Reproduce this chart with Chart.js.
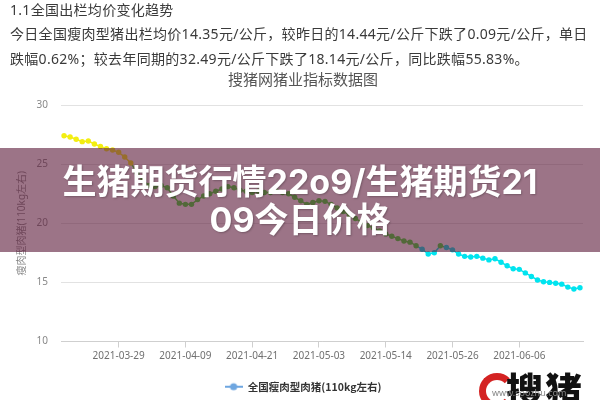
<!DOCTYPE html>
<html><head><meta charset="utf-8">
<script src="https://cdn.jsdelivr.net/npm/chart.js@4.4.1/dist/chart.umd.min.js"></script>
<style>
html,body{margin:0;padding:0;background:#fff;}
#wrap{position:relative;width:600px;height:400px;overflow:hidden;font-family:"Noto Sans","Noto Sans CJK SC",sans-serif;}
#c{position:absolute;left:0;top:0;}
.t{position:absolute;left:10px;color:#3a3a3a;font-size:14px;white-space:nowrap;letter-spacing:0.3px;}
#banner{position:absolute;left:0;top:148px;width:600px;height:104px;background:rgba(96,30,62,0.62);}
#btxt{position:absolute;left:0;top:163px;width:600px;text-align:center;color:#fff;font-weight:bold;font-size:34px;line-height:38px;font-family:"Inter","Noto Sans CJK SC",sans-serif;text-shadow:1px 1px 2px rgba(0,0,0,0.25);}
#logo{position:absolute;left:479px;top:373px;width:22px;height:22px;border:7px solid #d42222;border-right-color:transparent;border-radius:50%;}
#wm{position:absolute;left:506px;top:362px;font-size:37px;font-weight:900;color:#111;font-family:"Noto Sans CJK SC",serif;letter-spacing:2px;}
#url{position:absolute;left:492px;top:386px;font-size:9px;color:#888;}
</style></head>
<body><div id="wrap">
<canvas id="c" width="600" height="400"></canvas>
<div class="t" style="top:0px;line-height:20px;">1.1全国出栏均价变化趋势</div>
<div class="t" style="top:24px;line-height:20px;">今日全国瘦肉型猪出栏均价14.35元/公斤，较昨日的14.44元/公斤下跌了0.09元/公斤，单日</div>
<div class="t" style="top:49px;line-height:20px;">跌幅0.62%；较去年同期的32.49元/公斤下跌了18.14元/公斤，同比跌幅55.83%。</div>
<div id="banner"></div>
<div id="btxt">生猪期货行情22o9/生猪期货21<br>09今日价格</div>
<div id="logo"></div>
<div id="wm">搜猪</div>
<div id="url">www.soozhu.com</div>
</div>
<script>
const chartTitle = '搜猪网猪业指标数据图';
const seriesName = '全国瘦肉型肉猪(110kg左右)';
const yAxisTitle = '瘦肉型肉猪(110kg左右)';
const dates = [
'2021-03-20','2021-03-21','2021-03-22','2021-03-23','2021-03-24','2021-03-25','2021-03-26','2021-03-27','2021-03-28','2021-03-29',
'2021-03-30','2021-03-31','2021-04-01','2021-04-02','2021-04-03','2021-04-04','2021-04-05','2021-04-06','2021-04-07','2021-04-08',
'2021-04-09','2021-04-10','2021-04-11','2021-04-12','2021-04-13','2021-04-14','2021-04-15','2021-04-16','2021-04-18','2021-04-19',
'2021-04-20','2021-04-21','2021-04-22','2021-04-23','2021-04-24','2021-04-25','2021-04-26','2021-04-27','2021-04-28','2021-04-29',
'2021-04-30','2021-05-02','2021-05-03','2021-05-04','2021-05-05','2021-05-06','2021-05-07','2021-05-08','2021-05-09','2021-05-10',
'2021-05-11','2021-05-12','2021-05-13','2021-05-14','2021-05-15','2021-05-16','2021-05-17','2021-05-18','2021-05-19','2021-05-20',
'2021-05-21','2021-05-22','2021-05-24','2021-05-25','2021-05-26','2021-05-27','2021-05-28','2021-05-29','2021-05-30','2021-05-31',
'2021-06-01','2021-06-02','2021-06-03','2021-06-04','2021-06-05','2021-06-06','2021-06-07','2021-06-08','2021-06-09','2021-06-10',
'2021-06-11','2021-06-12','2021-06-13','2021-06-14','2021-06-15','2021-06-16'];
const prices = [
27.4,27.3,27.1,26.9,26.95,26.7,26.5,26.3,26.2,26.0,
25.6,25.1,24.3,23.6,23.2,23.1,23.2,23.0,22.3,21.7,
21.6,21.6,22.0,22.3,22.5,22.7,22.9,23.1,23.0,22.8,
22.7,22.6,22.7,22.6,22.6,22.7,22.6,22.5,22.2,21.9,
21.6,21.75,21.9,21.85,21.6,21.3,21.0,20.7,20.4,20.1,
19.8,19.6,19.35,19.1,18.9,18.7,18.5,18.4,18.1,17.8,
17.4,17.5,18.1,17.95,17.75,17.4,17.2,17.15,17.2,17.05,
16.9,17.0,16.7,16.4,16.15,16.1,15.8,15.5,15.2,15.05,
15.0,14.93,14.85,14.6,14.44,14.55];
const tickLabels = ['2021-03-29','2021-04-09','2021-04-21','2021-05-03','2021-05-14','2021-05-26','2021-06-06'];
const yTicks = [10,15,20,25,30];

function colorFor(v){ if(v>25) return '#f3ee12'; if(v>18) return '#3ee034'; return '#00e4ef'; }

const icon = document.createElement('canvas');
icon.width = 18; icon.height = 10;
(function(){const g=icon.getContext('2d');g.strokeStyle='#6ea6e0';g.lineWidth=2;g.beginPath();g.moveTo(0,5);g.lineTo(18,5);g.stroke();g.fillStyle='#6ea6e0';g.beginPath();g.arc(9,5,3.6,0,Math.PI*2);g.fill();})();

Chart.defaults.font.family = '"Noto Sans","Noto Sans CJK SC",sans-serif';
new Chart(document.getElementById('c'), {
  type:'line',
  data:{labels:dates, datasets:[{
    label:seriesName, data:prices, borderWidth:1.5, tension:0,
    pointRadius:2.7, pointBorderWidth:0, pointHoverRadius:3,
    pointBackgroundColor: ctx => colorFor(ctx.raw),
    borderColor:'#6ea6e0',
    segment:{borderColor: ctx => colorFor((ctx.p0.parsed.y+ctx.p1.parsed.y)/2)}
  }]},
  options:{
    responsive:false, animation:false, devicePixelRatio:1,
    layout:{padding:{left:23,right:17,top:0,bottom:-2}},
    plugins:{
      title:{display:true,text:chartTitle,color:'#555',font:{size:15,weight:'normal',family:'"Noto Sans CJK SC",sans-serif'},padding:{top:70,bottom:17}},
      legend:{position:'bottom',labels:{usePointStyle:true,pointStyleWidth:18,color:'#333',font:{size:10.5,weight:'bold',family:'"Noto Sans CJK SC",sans-serif'},padding:10,
        generateLabels: ch => [{text:seriesName,pointStyle:icon,fillStyle:'#6ea6e0',strokeStyle:'#6ea6e0',lineWidth:0,datasetIndex:0,hidden:false,fontColor:'#333'}]}},
      tooltip:{enabled:false}
    },
    scales:{
      x:{type:'category',offset:true,
        afterFit: s => { s.height = 30; },
        grid:{drawOnChartArea:false,drawTicks:true,tickLength:6,color:'#cfcfcf'},
        border:{color:'#cfcfcf'},
        ticks:{autoSkip:false,maxRotation:0,minRotation:0,padding:3,color:'#707070',font:{size:10},
          callback:function(v,i){const l=this.getLabelForValue(v);return tickLabels.includes(l)?l:null;}}
      },
      y:{min:10,max:30,
        afterFit: s => { s.width = 38; },
        afterBuildTicks: s => { s.ticks = yTicks.map(v=>({value:v})); },
        grid:{color:'#e2e2e2',drawTicks:false},
        border:{display:false},
        ticks:{padding:13,color:'#888',font:{size:10}},
        title:{display:true,text:yAxisTitle,color:'#888',font:{size:10},padding:{top:-7,bottom:0}}
      }
    }
  }
});
</script>
</body></html>
